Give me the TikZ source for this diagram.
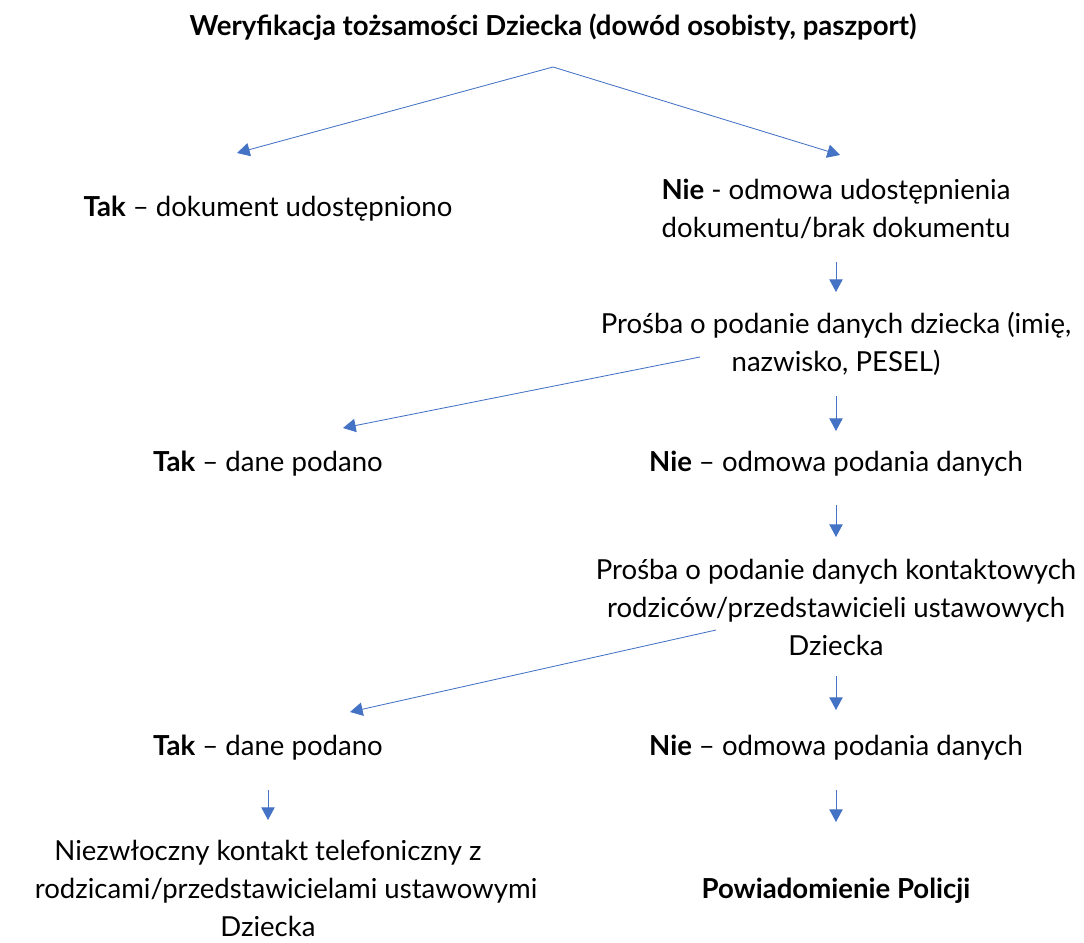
\documentclass[tikz,border=0pt]{standalone}
\usepackage{fontspec}
\setmainfont{Lato}
\usepackage{tikz}
\usetikzlibrary{arrows.meta, positioning}
\pgfdeclarelayer{edgelayer}
\pgfdeclarelayer{nodelayer}
\pgfsetlayers{nodelayer,main,edgelayer}
\definecolor{arrowblue}{RGB}{68,114,196}
\tikzset{
	txt/.style={align=center, inner sep=0pt, font=\fontsize{19.6}{27}\selectfont},
	arr/.style={arrowblue, line width=0.6pt, -{Triangle[length=9pt, width=9.5pt]}}
}

\begin{document}
\begin{tikzpicture}
	\useasboundingbox (0, 0) rectangle (27.1, -23.55);
	\begin{pgfonlayer}{nodelayer}
		\node [] (0) at (13.825, -1.675) {};
		\node [] (1) at (5.925, -3.825) {};
		\node [] (2) at (21, -3.875) {};
		\node [] (3) at (20.9, -6.55) {};
		\node [] (4) at (20.9, -7.3) {};
		\node [] (5) at (17.5, -8.925) {};
		\node [] (6) at (8.575, -10.7) {};
		\node [] (7) at (20.9, -9.9) {};
		\node [] (8) at (20.9, -10.775) {};
		\node [] (9) at (20.9, -12.625) {};
		\node [] (10) at (20.9, -13.425) {};
		\node [] (11) at (17.9, -15.75) {};
		\node [] (12) at (8.75, -17.8) {};
		\node [] (13) at (20.9, -16.9) {};
		\node [] (14) at (20.9, -17.75) {};
		\node [] (15) at (6.7, -19.75) {};
		\node [] (16) at (6.7, -20.5) {};
		\node [] (17) at (20.9, -19.75) {};
		\node [] (18) at (20.9, -20.55) {};
		\node [txt] (19) at (13.825, -0.675) {\textbf{Weryfikacja tożsamości Dziecka (dowód osobisty, paszport)}};
		\node [txt] (20) at (6.7, -5.225) {\textbf{Tak} – dokument udostępniono};
		\node [txt] (21) at (20.9, -5.225) {\textbf{Nie} - odmowa udostępnienia\\dokumentu/brak dokumentu};
		\node [txt] (22) at (20.9, -8.6) {Prośba o podanie danych dziecka (imię,\\nazwisko, PESEL)};
		\node [txt] (23) at (6.7, -11.6) {\textbf{Tak} – dane podano};
		\node [txt] (24) at (20.9, -11.6) {\textbf{Nie} – odmowa podania danych};
		\node [txt] (25) at (20.9, -15.175) {Prośba o podanie danych kontaktowych\\rodziców/przedstawicieli ustawowych\\Dziecka};
		\node [txt] (26) at (6.7, -18.7) {\textbf{Tak} – dane podano};
		\node [txt] (27) at (20.9, -18.7) {\textbf{Nie} – odmowa podania danych};
		\node [txt] (28) at (6.7, -22.2) {Niezwłoczny kontakt telefoniczny z\\\hspace*{0.9cm}rodzicami/przedstawicielami ustawowymi\\Dziecka};
		\node [txt] (29) at (20.9, -22.275) {\textbf{Powiadomienie Policji}};
	\end{pgfonlayer}
	\begin{pgfonlayer}{edgelayer}
		\draw [arr] (0.center) to (1.center);
		\draw [arr] (0.center) to (2.center);
		\draw [arr] (3.center) to (4.center);
		\draw [arr] (5.center) to (6.center);
		\draw [arr] (7.center) to (8.center);
		\draw [arr] (9.center) to (10.center);
		\draw [arr] (11.center) to (12.center);
		\draw [arr] (13.center) to (14.center);
		\draw [arr] (15.center) to (16.center);
		\draw [arr] (17.center) to (18.center);
	\end{pgfonlayer}
\end{tikzpicture}
\end{document}
